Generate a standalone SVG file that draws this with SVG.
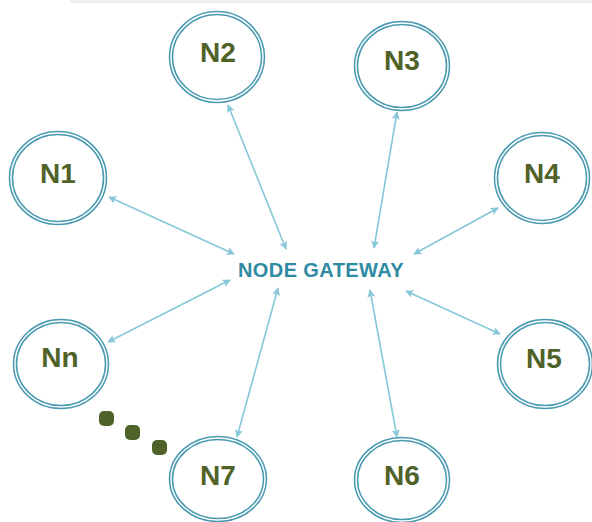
<svg xmlns="http://www.w3.org/2000/svg" width="592" height="522" viewBox="0 0 592 522">
  <defs>
    <marker id="ah" viewBox="0 0 10 10" refX="9" refY="5" markerWidth="9" markerHeight="8" markerUnits="userSpaceOnUse" orient="auto-start-reverse">
      <path d="M0,0 L10,5 L0,10 L2,5 Z" fill="#86c8d8"/>
    </marker>
  </defs>
  <style>
    .ring-o { fill: #ffffff; stroke: #4a9ab2; stroke-width: 4.5; }
    .ring-i { fill: none; stroke: #ffffff; stroke-width: 1.4; }
    .lbl { font-family: "Liberation Sans", Arial, sans-serif; font-weight: bold; font-size: 28px; fill: #4f6228; text-anchor: middle; }
    .gw { font-family: "Liberation Sans", Arial, sans-serif; font-weight: bold; font-size: 20px; letter-spacing: 0.4px; fill: #2f8aa3; text-anchor: middle; }
    .conn { stroke: #86c8d8; stroke-width: 1.6; fill: none; marker-start: url(#ah); marker-end: url(#ah); }
    .dot { fill: #4f6228; }
  </style>
  <rect x="0" y="0" width="592" height="522" fill="#ffffff"/>
  <rect x="70" y="0" width="522" height="3" fill="#ebe7e3" opacity="0.8"/>

  <g id="connectors">
    <line class="conn" x1="109" y1="197" x2="234" y2="254"/>
    <line class="conn" x1="228" y1="105" x2="286" y2="249"/>
    <line class="conn" x1="397" y1="112" x2="374" y2="248"/>
    <line class="conn" x1="498" y1="208" x2="414" y2="254"/>
    <line class="conn" x1="500" y1="334" x2="406" y2="291"/>
    <line class="conn" x1="370" y1="290" x2="397" y2="437"/>
    <line class="conn" x1="278" y1="288" x2="237" y2="437"/>
    <line class="conn" x1="230" y1="280" x2="108" y2="342"/>
  </g>

  <g id="gateway">
    <text class="gw" x="321" y="277">NODE GATEWAY</text>
  </g>

  <g id="N1">
    <ellipse class="ring-o" cx="58" cy="178" rx="47" ry="45"/>
    <ellipse class="ring-i" cx="58" cy="178" rx="47" ry="45"/>
    <text class="lbl" x="58" y="183">N1</text>
  </g>
  <g id="N2">
    <ellipse class="ring-o" cx="217" cy="57" rx="46" ry="44"/>
    <ellipse class="ring-i" cx="217" cy="57" rx="46" ry="44"/>
    <text class="lbl" x="218" y="62">N2</text>
  </g>
  <g id="N3">
    <ellipse class="ring-o" cx="402" cy="66" rx="46" ry="43"/>
    <ellipse class="ring-i" cx="402" cy="66" rx="46" ry="43"/>
    <text class="lbl" x="402" y="70">N3</text>
  </g>
  <g id="N4">
    <ellipse class="ring-o" cx="542" cy="178" rx="46" ry="44"/>
    <ellipse class="ring-i" cx="542" cy="178" rx="46" ry="44"/>
    <text class="lbl" x="542" y="183">N4</text>
  </g>
  <g id="N5">
    <ellipse class="ring-o" cx="545" cy="364" rx="46" ry="43"/>
    <ellipse class="ring-i" cx="545" cy="364" rx="46" ry="43"/>
    <text class="lbl" x="544" y="368">N5</text>
  </g>
  <g id="N6">
    <ellipse class="ring-o" cx="402" cy="480" rx="46" ry="41"/>
    <ellipse class="ring-i" cx="402" cy="480" rx="46" ry="41"/>
    <text class="lbl" x="402" y="485">N6</text>
  </g>
  <g id="N7">
    <ellipse class="ring-o" cx="218" cy="479" rx="47" ry="41"/>
    <ellipse class="ring-i" cx="218" cy="479" rx="47" ry="41"/>
    <text class="lbl" x="218" y="485">N7</text>
  </g>
  <g id="Nn">
    <ellipse class="ring-o" cx="61" cy="364" rx="46" ry="43"/>
    <ellipse class="ring-i" cx="61" cy="364" rx="46" ry="43"/>
    <text class="lbl" x="60" y="367">Nn</text>
  </g>

  <g id="ellipsis">
    <rect class="dot" x="99" y="411" width="15" height="15" rx="5"/>
    <rect class="dot" x="125" y="425" width="15" height="15" rx="5"/>
    <rect class="dot" x="152" y="440" width="15" height="15" rx="5"/>
  </g>
</svg>
